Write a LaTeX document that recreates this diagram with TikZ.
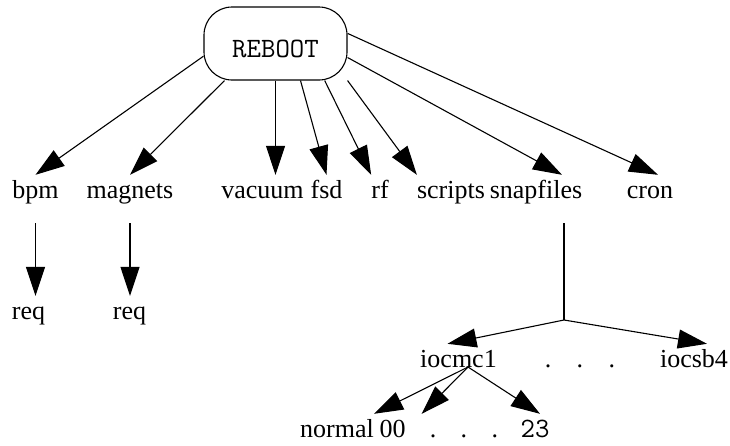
\documentclass[tikz,border=0pt]{standalone}
\usepackage{fontspec}
\setmainfont{Liberation Serif}
\usetikzlibrary{arrows.meta,positioning}

\tikzset{
    dir/.style = {draw, line width=1.1pt, rounded corners=28pt,
                  minimum width=143pt, minimum height=73pt,
                  text height=28pt, text depth=0pt,
                  font=\fontsize{28}{32}\selectfont\ttfamily},
    leaf/.style = {anchor=base, inner sep=0pt,
                   text height=23pt, text depth=25pt,
                   font=\fontsize{26}{30}\selectfont},
    mono/.style = {leaf, font=\fontsize{28}{32}\selectfont\ttfamily},
    link/.style = {line width=1.1pt, -{Triangle[length=29pt, width=19pt]}}
}

\begin{document}
\begin{tikzpicture}[x=1pt, y=-1pt]
    \useasboundingbox (0,0) rectangle (730,445);

    \node[dir] (reboot) at (275.5,43.5) {REBOOT};

    \node[leaf] (bpm)       at (35.5,198)  {bpm};
    \node[leaf] (magnets)   at (130,198)   {magnets};
    \node[leaf] (vacuum)    at (262.5,198) {vacuum};
    \node[leaf] (fsd)       at (326.5,198) {fsd};
    \node[leaf] (rf)        at (380,198)   {rf};
    \node[leaf] (scripts)   at (451,198)   {scripts};
    \node[leaf] (snapfiles) at (536,198)   {snapfiles};
    \node[leaf] (cron)      at (650,198)   {cron};

    \node[leaf] (req1) at (28.5,319)  {req};
    \node[leaf] (req2) at (129.5,319) {req};

    \coordinate (split) at (564,320);
    \node[leaf] (iocmc1) at (458.5,367) {iocmc1};
    \node[leaf] (iocdots) at (580,367) {.\hspace{25.5pt}.\hspace{25.5pt}.};
    \node[leaf] (iocsb4) at (694,367) {iocsb4};

    \coordinate (fan) at ([xshift=9.5pt]iocmc1.base);
    \node[leaf] (normal)  at (337,437)   {normal};
    \node[leaf] (n00)     at (392.5,437) {00};
    \node[leaf] (numdots) at (464,437)   {.\hspace{24.5pt}.\hspace{24.5pt}.};
    \node[mono] (n23)     at (535,437)   {23};

    % top level
    \draw[link] (reboot.190)   -- (bpm.north);
    \draw[link] (reboot.216.8) -- (magnets.north);
    \draw[link] (reboot.south) -- (reboot.south |- vacuum.north);
    \draw[link] (reboot.-56)   -- (fsd.north);
    \draw[link] (reboot.-37)   -- (rf.north west);
    \draw[link] (reboot.south east) -- (scripts.north west);
    \draw[link] (reboot.-11)   -- ([xshift=26pt]snapfiles.north);
    \draw[link] (reboot.8)     -- ([xshift=8pt]cron.north);

    \draw[link] (bpm.south)     -- (bpm.south |- req1.north);
    \draw[link] (magnets.south) -- (magnets.south |- req2.north);

    % snapfiles
    \draw[line width=1.1pt] (snapfiles.south -| split) -- (split);
    \draw[link] (split) -- ([xshift=-11pt]iocmc1.north);
    \draw[link] (split) -- ([xshift=13pt]iocsb4.north);

    \draw[link] (fan) -- (normal.north east);
    \draw[link] (fan) -- ([xshift=16pt]n00.north east);
    \draw[link] (fan) -- ([xshift=5pt]n23.north);
\end{tikzpicture}
\end{document}
